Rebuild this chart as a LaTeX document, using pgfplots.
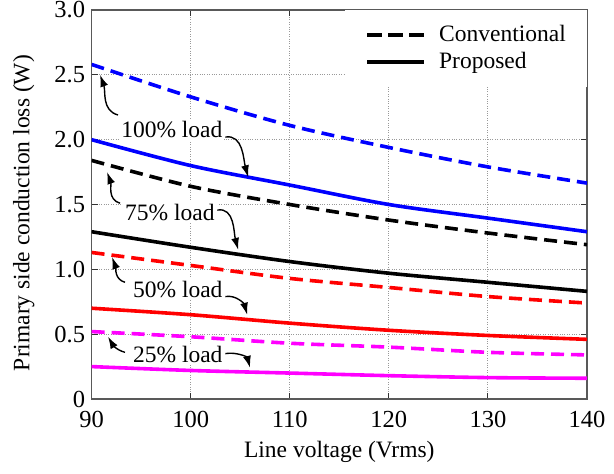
\documentclass[border=0pt]{standalone}
\usepackage{fontspec}
\setmainfont{Liberation Serif}
\usepackage{pgfplots}
\pgfplotsset{compat=1.18}
\usetikzlibrary{arrows.meta}
\definecolor{pblue}{RGB}{0,0,255}
\definecolor{pred}{RGB}{255,0,0}
\definecolor{pmag}{RGB}{255,0,255}
\begin{document}
\begin{tikzpicture}
\begin{axis}[
  name=ax, scale only axis, width=495.4pt, height=389pt,
  xmin=90, xmax=140, ymin=0, ymax=3,
  xtick={90,100,110,120,130,140},
  ytick={0,0.5,1,1.5,2,2.5,3},
  yticklabels={0,0.5,1.0,1.5,2.0,2.5,3.0},
  /pgf/number format/assume math mode=true,
  grid=major, grid style={dotted, gray!80, line width=0.9pt},
  tick align=inside, major tick length=6pt,
  axis line style={line width=1.1pt, black!65},
  tick style={line width=1pt, black!80},
  ticklabel style={font=\fontsize{24.5}{28}\selectfont},
  yticklabel style={xshift=-3pt},
  xticklabel style={yshift=-9pt},
  xlabel={Line voltage (Vrms)},
  ylabel={Primary side conduction loss (W)},
  label style={font=\fontsize{23.5}{27}\selectfont},
  xlabel style={at={(axis description cs:0.5,-0.136)}, anchor=center},
  ylabel style={at={(axis description cs:-0.137,0.478)}, anchor=center},
  legend style={draw=none, fill=white, at={(1,1)}, anchor=north east,
    inner xsep=20pt, inner ysep=13pt, row sep=3pt,
    font=\fontsize{23.5}{27}\selectfont,
    nodes={inner sep=1pt, text height=17pt, text depth=5pt},
    /tikz/every odd column/.append style={column sep=12pt}},
  legend cell align=left,
  legend image code/.code={\draw[#1] (0pt,0pt) -- (57pt,0pt);},
]
\addlegendimage{black, line width=4pt, dash pattern=on 15pt off 6pt}
\addlegendentry{Conventional}
\addlegendimage{black, line width=4pt}
\addlegendentry{Proposed}

% 100% load
\addplot[pblue, line width=3.6pt, dash pattern=on 13pt off 7pt, smooth, forget plot] coordinates {
 (90,2.58) (100,2.33) (110,2.11) (120,1.94) (130,1.79) (140,1.665)};
\addplot[pblue, line width=3.6pt, smooth, forget plot] coordinates {
 (90,2.00) (100,1.80) (110,1.65) (120,1.50) (130,1.395) (140,1.29)};
% 75% load
\addplot[black, line width=3.6pt, dash pattern=on 13pt off 7pt, smooth, forget plot] coordinates {
 (90,1.84) (100,1.64) (110,1.50) (120,1.38) (130,1.28) (140,1.19)};
\addplot[black, line width=3.6pt, smooth, forget plot] coordinates {
 (90,1.29) (100,1.17) (110,1.06) (120,0.97) (130,0.90) (140,0.83)};
% 50% load
\addplot[pred, line width=3.6pt, dash pattern=on 13pt off 7pt, smooth, forget plot] coordinates {
 (90,1.13) (100,1.03) (110,0.93) (120,0.86) (130,0.79) (140,0.74)};
\addplot[pred, line width=3.6pt, smooth, forget plot] coordinates {
 (90,0.70) (100,0.65) (110,0.585) (120,0.53) (130,0.49) (140,0.46)};
% 25% load
\addplot[pmag, line width=3.6pt, dash pattern=on 13pt off 7pt, smooth, forget plot] coordinates {
 (90,0.52) (100,0.48) (110,0.43) (120,0.40) (130,0.36) (140,0.34)};
\addplot[pmag, line width=3.6pt, smooth, forget plot] coordinates {
 (90,0.25) (100,0.22) (110,0.20) (120,0.18) (130,0.165) (140,0.16)};

\tikzset{lbl/.style={fill=white, inner sep=2pt, font=\fontsize{23.5}{27}\selectfont},
  arr/.style={line width=1.4pt, -{Latex[length=12pt,width=8pt]}}}
\node[lbl] at (axis cs:98.1,2.08) {100\% load};
\node[lbl] at (axis cs:97.9,1.44) {75\% load};
\node[lbl] at (axis cs:98.7,0.845) {50\% load};
\node[lbl] at (axis cs:98.7,0.343) {25\% load};

\draw[arr] (axis cs:92.67,2.19) to[out=165,in=-70] (axis cs:90.85,2.50);
\draw[arr] (axis cs:103.5,2.02) to[out=10,in=105] (axis cs:105.8,1.71);
\draw[arr] (axis cs:92.87,1.51) to[out=165,in=-70] (axis cs:91.56,1.75);
\draw[arr] (axis cs:102.7,1.457) to[out=10,in=105] (axis cs:104.8,1.15);
\draw[arr] (axis cs:93.37,0.90) to[out=165,in=-70] (axis cs:92.06,1.095);
\draw[arr] (axis cs:103.5,0.79) to[out=10,in=105] (axis cs:105.7,0.65);
\draw[arr] (axis cs:93.37,0.36) to[out=165,in=-60] (axis cs:91.66,0.48);
\draw[arr] (axis cs:103.5,0.35) to[out=10,in=105] (axis cs:106.0,0.24);
\end{axis}
\pgfresetboundingbox
\path ([xshift=-91.6pt,yshift=-75pt]ax.south west) rectangle ([xshift=27pt,yshift=10pt]ax.north east);
\end{tikzpicture}
\end{document}
